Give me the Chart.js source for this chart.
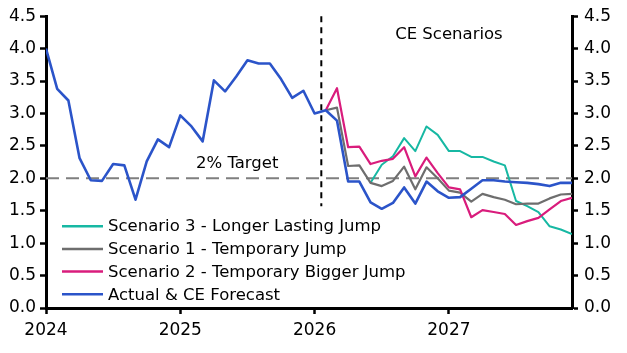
<!DOCTYPE html>
<html>
<head>
<meta charset="utf-8">
<script src="https://cdn.jsdelivr.net/npm/chart.js@4"></script>
<style>
  html, body { margin: 0; padding: 0; background: #fff; }
  #wrap { width: 627px; height: 353px; }
</style>
</head>
<body>
<div id="wrap"><canvas id="chart"></canvas></div>
<script>
// monthly, Jan 2024 .. Dec 2027 (index 0..47)
var years = ['2024', '2025', '2026', '2027'];

var actual = [
  4.00, 3.38, 3.20, 2.31, 1.97, 1.96, 2.22, 2.20, 1.67, 2.26, 2.60, 2.48,
  2.97, 2.80, 2.57, 3.51, 3.34, 3.57, 3.82, 3.77, 3.77, 3.53, 3.24, 3.35,
  3.00, 3.05, 2.89, 1.95, 1.95, 1.63, 1.53, 1.62, 1.86, 1.61, 1.95, 1.80,
  1.70, 1.71, 1.84, 1.97, 1.97, 1.95, 1.94, 1.93, 1.91, 1.88, 1.93, 1.93
];
// scenarios start Feb 2026 (index 25)
var scenario1 = [
  3.05, 3.09, 2.19, 2.20, 1.93, 1.88, 1.96, 2.18, 1.83, 2.17, 2.00,
  1.81, 1.78, 1.64, 1.76, 1.71, 1.67, 1.60, 1.61, 1.61, 1.69, 1.75, 1.76
];
var scenario2 = [
  3.05, 3.39, 2.48, 2.49, 2.22, 2.27, 2.30, 2.48, 2.03, 2.32, 2.08,
  1.86, 1.83, 1.40, 1.51, 1.48, 1.45, 1.28, 1.34, 1.39, 1.52, 1.65, 1.70
];
// scenario 3 starts Jun 2026 (index 29)
var scenario3 = [
  1.93, 2.21, 2.34, 2.62, 2.42, 2.80, 2.67,
  2.42, 2.42, 2.33, 2.33, 2.26, 2.20, 1.65, 1.57, 1.48, 1.26, 1.21, 1.14
];
var target = 2.0;
var forecastLine = 24.6;

function toPoints(values, start) {
  return values.map(function(v, i) { return { x: start + i, y: v }; });
}

var FONT = 'DejaVu Sans';

var overlays = {
  id: 'overlays',
  beforeDatasetsDraw: function(chart) {
    var ctx = chart.ctx, a = chart.chartArea;
    var xs = chart.scales.x, ys = chart.scales.y;
    ctx.save();
    // 2% target
    var y2 = ys.getPixelForValue(target);
    ctx.strokeStyle = '#7f7f7f';
    ctx.lineWidth = 2;
    ctx.setLineDash([13, 7]);
    ctx.beginPath();
    ctx.moveTo(a.left, y2);
    ctx.lineTo(a.right, y2);
    ctx.stroke();
    // forecast divider
    var xv = xs.getPixelForValue(forecastLine);
    ctx.strokeStyle = '#000';
    ctx.setLineDash([6, 5]);
    ctx.beginPath();
    ctx.moveTo(xv, ys.getPixelForValue(4.5));
    ctx.lineTo(xv, ys.getPixelForValue(1.57));
    ctx.stroke();
    ctx.setLineDash([]);
    // texts
    ctx.fillStyle = '#000';
    ctx.font = '16.5px "' + FONT + '"';
    ctx.textAlign = 'left';
    ctx.textBaseline = 'middle';
    ctx.fillText('2% Target', xs.getPixelForValue(13.4), ys.getPixelForValue(2.22));
    ctx.fillText('CE Scenarios', xs.getPixelForValue(31.2), ys.getPixelForValue(4.21));
    ctx.restore();
  },
  afterDatasetsDraw: function(chart) {
    var ctx = chart.ctx, a = chart.chartArea;
    ctx.save();
    ctx.font = '16.5px "' + FONT + '"';
    ctx.textAlign = 'left';
    ctx.textBaseline = 'middle';
    chart.data.datasets.forEach(function(ds, i) {
      var y = a.top + 210 + i * 22.7;
      ctx.strokeStyle = ds.borderColor;
      ctx.lineWidth = 2.5;
      ctx.beginPath();
      ctx.moveTo(a.left + 16, y);
      ctx.lineTo(a.left + 57, y);
      ctx.stroke();
      ctx.fillStyle = '#000';
      ctx.fillText(ds.label, a.left + 62, y + 1);
    });
    ctx.restore();
  }
};

var yTicks = {
  color: '#000',
  font: { family: FONT, size: 17 },
  stepSize: 0.5,
  callback: function(v) { return v.toFixed(1); }
};

var config = {
  type: 'line',
  data: {
    datasets: [{
      label: 'Scenario 3 - Longer Lasting Jump',
      data: toPoints(scenario3, 29),
      borderColor: '#17b8a3',
      borderWidth: 2,
      order: 4
    }, {
      label: 'Scenario 1 - Temporary Jump',
      data: toPoints(scenario1, 25),
      borderColor: '#6e6e6e',
      borderWidth: 2.2,
      order: 3
    }, {
      label: 'Scenario 2 - Temporary Bigger Jump',
      data: toPoints(scenario2, 25),
      borderColor: '#d91c7c',
      borderWidth: 2.2,
      order: 2
    }, {
      label: 'Actual & CE Forecast',
      data: toPoints(actual, 0),
      borderColor: '#2b54c9',
      borderWidth: 2.6,
      order: 1
    }]
  },
  options: {
    responsive: true,
    maintainAspectRatio: false,
    animation: false,
    layout: { padding: { top: 14, left: 0, right: 0, bottom: 0 } },
    elements: {
      point: { radius: 0 },
      line: { tension: 0, borderJoinStyle: 'round' }
    },
    plugins: {
      legend: { display: false },
      tooltip: { enabled: false }
    },
    scales: {
      x: {
        type: 'linear',
        min: 0,
        max: 47,
        afterBuildTicks: function(s) {
          s.ticks = [0, 12, 24, 36].map(function(v) { return { value: v }; });
        },
        afterFit: function(s) { s.height = 45; },
        border: { color: '#000', width: 3 },
        grid: { drawOnChartArea: false, color: '#000', tickLength: 6, tickWidth: 2.5 },
        ticks: {
          color: '#000',
          font: { family: FONT, size: 17 },
          padding: 6,
          maxRotation: 0,
          callback: function(v) { return years[v / 12]; }
        }
      },
      y: {
        position: 'left',
        min: 0,
        max: 4.5,
        afterFit: function(s) { s.width = 46; },
        border: { color: '#000', width: 3 },
        grid: { drawOnChartArea: false, color: '#000', tickLength: 6, tickWidth: 2.5 },
        ticks: Object.assign({ padding: 4 }, yTicks)
      },
      y2: {
        position: 'right',
        min: 0,
        max: 4.5,
        afterFit: function(s) { s.width = 55; },
        border: { color: '#000', width: 3 },
        grid: { drawOnChartArea: false, color: '#000', tickLength: 6, tickWidth: 2.5 },
        ticks: Object.assign({ padding: 6 }, yTicks)
      }
    }
  },
  plugins: [overlays]
};

window.onload = function() {
  var ctx = document.getElementById('chart').getContext('2d');
  window.myChart = new Chart(ctx, config);
};
</script>
</body>
</html>
